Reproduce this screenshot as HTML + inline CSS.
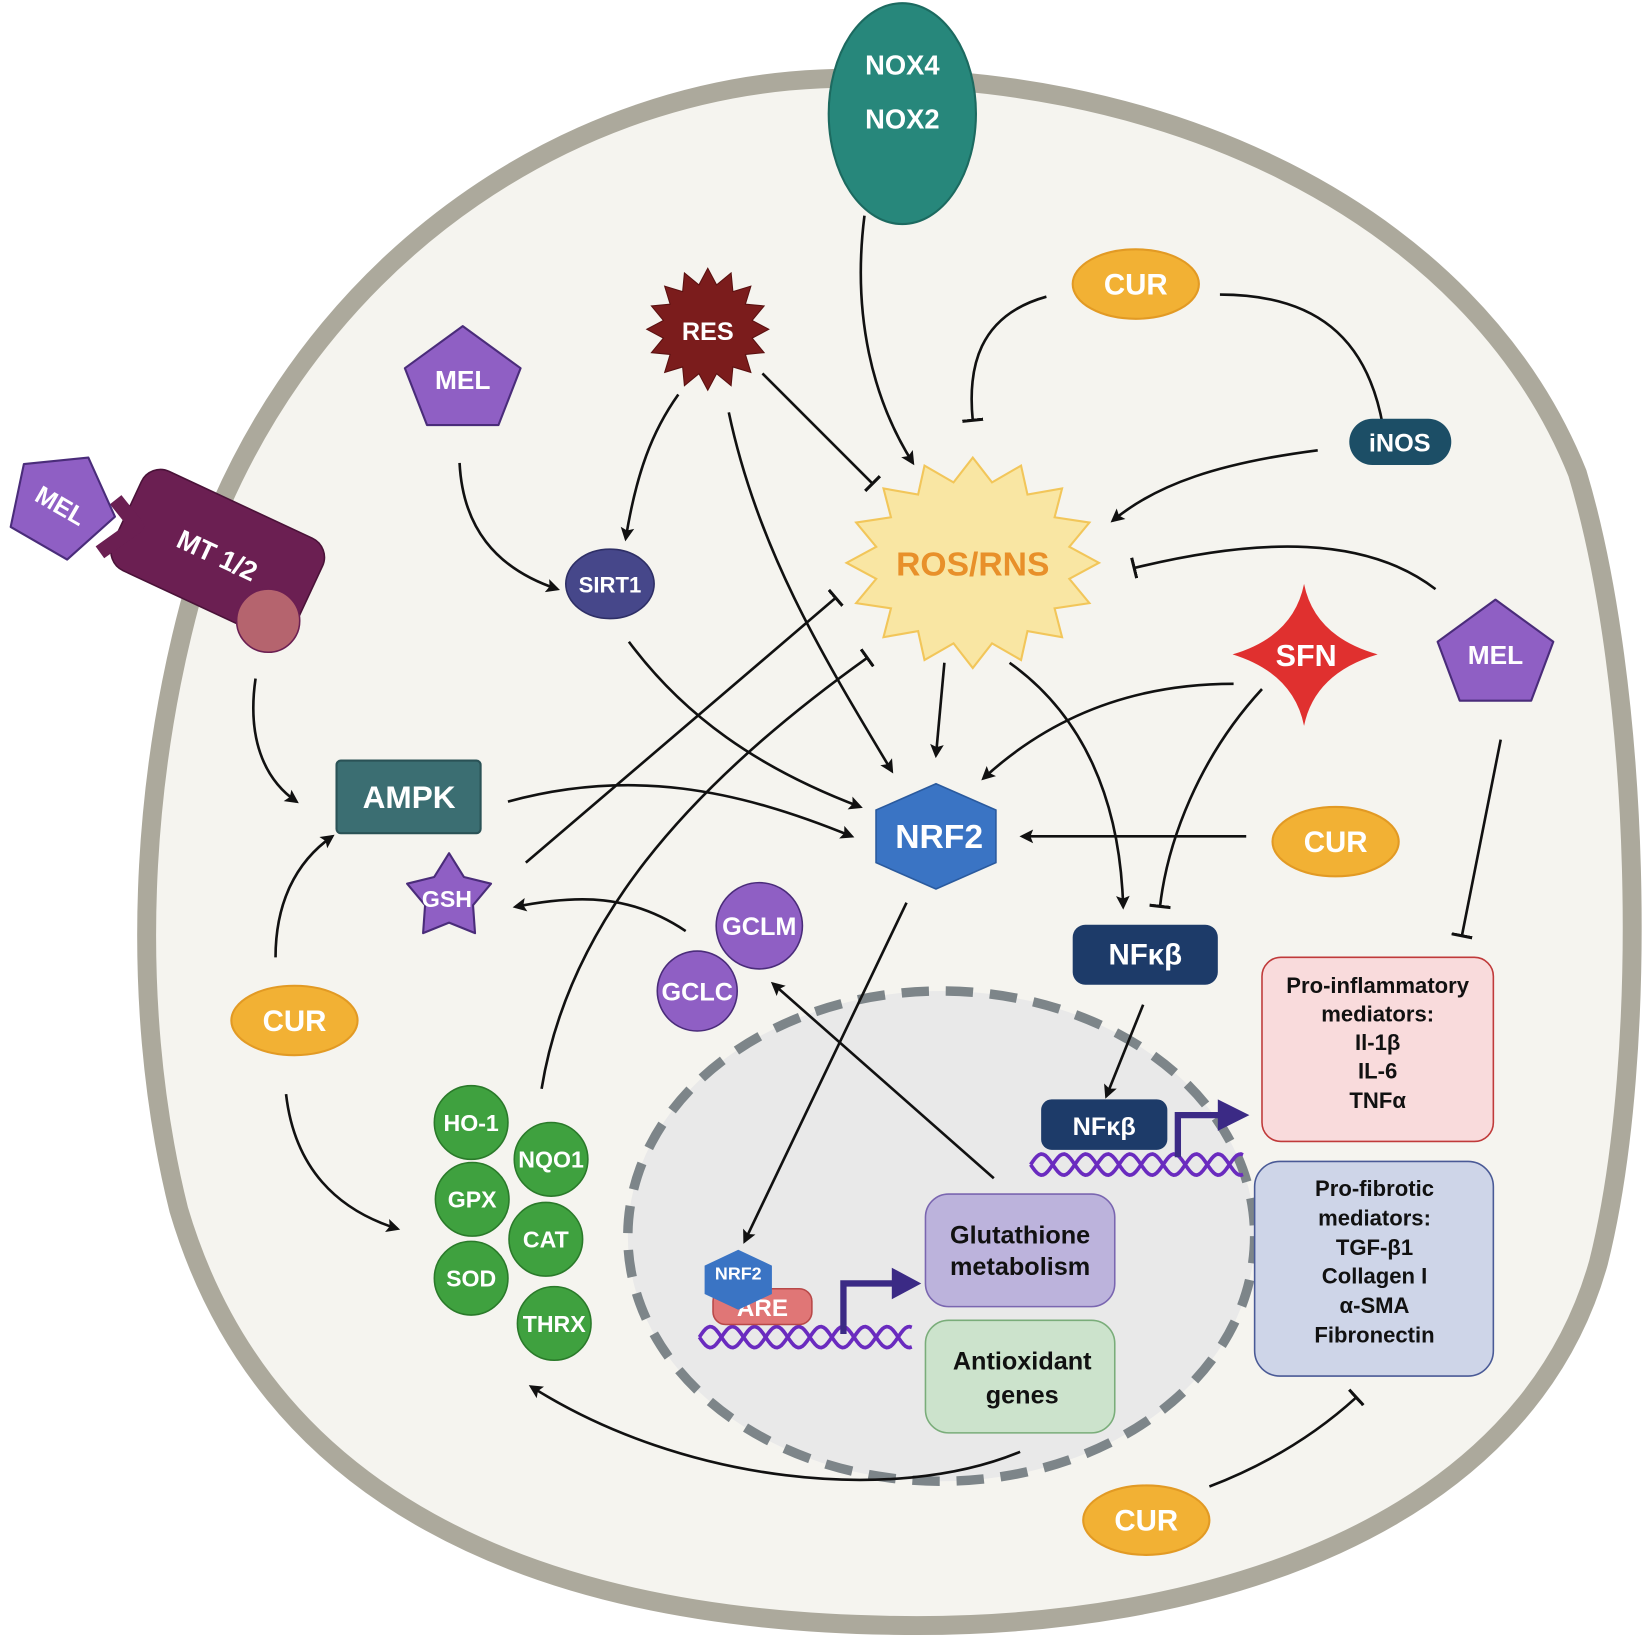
<!DOCTYPE html>
<html><head><meta charset="utf-8">
<style>
html,body{margin:0;padding:0;background:#fff;}
svg{display:block;}
text{font-family:"Liberation Sans",Arial,sans-serif;font-weight:bold;}
</style></head>
<body>
<svg id="s" width="1649" height="1638" viewBox="0 0 1568 1557" preserveAspectRatio="none" xmlns="http://www.w3.org/2000/svg">
<defs>
<marker id="ar" viewBox="0 0 10 10" refX="8" refY="5" markerWidth="14" markerHeight="13" orient="auto" markerUnits="userSpaceOnUse" style="overflow:visible">
<path d="M0,0 L10,5 L0,10 L2,5 Z" fill="#111"/></marker>
<marker id="br" viewBox="0 -10 4 20" refX="2" refY="0" markerWidth="4" markerHeight="20" orient="auto" markerUnits="userSpaceOnUse">
<rect x="0" y="-10" width="3" height="20" fill="#111"/></marker>
</defs>
<!-- cell -->
<path d="M780,75 C1100,60 1400,200 1500,450 C1560,650 1570,1000 1520,1200 C1450,1450 1150,1550 850,1545 C500,1540 250,1420 170,1150 C120,950 130,700 210,480 C320,230 550,85 780,75 Z" fill="#f5f4ef" stroke="#aca99c" stroke-width="18"/>
<!-- nucleus -->
<ellipse cx="895" cy="1175" rx="298" ry="233" fill="#e9e9e9" stroke="#7d8589" stroke-width="9" stroke-dasharray="26 16"/>

<!-- connectors -->
<g fill="none" stroke="#111" stroke-width="2.5">
<path d="M822,205 C810,300 830,380 868,440" marker-end="url(#ar)"/>
<path d="M995,282 C930,300 920,350 925,400" marker-end="url(#br)"/>
<path d="M1160,280 C1250,280 1300,320 1315,405" marker-end="url(#br)"/>
<path d="M1253,428 C1160,440 1100,460 1058,495" marker-end="url(#ar)"/>
<path d="M1365,560 C1300,510 1200,510 1078,540" marker-end="url(#br)"/>
<path d="M725,355 L830,460" marker-end="url(#br)"/>
<path d="M645,375 C620,410 605,450 595,512" marker-end="url(#ar)"/>
<path d="M693,392 C720,520 780,620 848,733" marker-end="url(#ar)"/>
<path d="M437,440 C440,500 470,540 530,560" marker-end="url(#ar)"/>
<path d="M598,610 C650,680 720,730 818,767" marker-end="url(#ar)"/>
<path d="M898,630 L890,718" marker-end="url(#ar)"/>
<path d="M960,630 C1030,680 1065,760 1068,862" marker-end="url(#ar)"/>
<path d="M1173,650 C1080,650 1000,680 935,740" marker-end="url(#ar)"/>
<path d="M1200,655 C1140,720 1110,800 1103,862" marker-end="url(#br)"/>
<path d="M1427,703 L1390,890" marker-end="url(#br)"/>
<path d="M1185,795 L972,795" marker-end="url(#ar)"/>
<path d="M483,762 C600,730 700,750 810,795" marker-end="url(#ar)"/>
<path d="M500,820 L795,568" marker-end="url(#br)"/>
<path d="M515,1035 C540,880 650,750 825,625" marker-end="url(#br)"/>
<path d="M652,885 C600,850 550,850 490,862" marker-end="url(#ar)"/>
<path d="M243,645 C235,700 250,740 282,762" marker-end="url(#ar)"/>
<path d="M262,910 C262,860 280,820 316,795" marker-end="url(#ar)"/>
<path d="M272,1040 C280,1110 320,1150 378,1168" marker-end="url(#ar)"/>
<path d="M862,858 L708,1180" marker-end="url(#ar)"/>
<path d="M945,1120 L735,935" marker-end="url(#ar)"/>
<path d="M1087,955 L1052,1042" marker-end="url(#ar)"/>
<path d="M970,1380 C850,1430 650,1410 505,1318" marker-end="url(#ar)"/>
<path d="M1150,1413 C1210,1390 1255,1360 1290,1328" marker-end="url(#br)"/>
</g>

<!-- NOX -->
<ellipse cx="858" cy="108" rx="70" ry="105" fill="#27877b" stroke="#1c6a60" stroke-width="2"/>
<text x="858" y="71" font-size="26" fill="#fff" text-anchor="middle">NOX4</text>
<text x="858" y="122" font-size="26" fill="#fff" text-anchor="middle">NOX2</text>

<!-- RES -->
<polygon id="res" fill="#7b1c1c" stroke="#5a1010" stroke-width="1"/>
<text x="673" y="323" font-size="24" fill="#fff" text-anchor="middle">RES</text>

<!-- ROS -->
<polygon id="ros" fill="#f9e6a3" stroke="#f2c65a" stroke-width="2"/>
<text x="925" y="547" font-size="32" fill="#e8902a" text-anchor="middle">ROS/RNS</text>

<!-- CUR ellipses -->
<g fill="#f2b134" stroke="#e29a24" stroke-width="2">
<ellipse cx="1080" cy="270" rx="60" ry="33"/>
<ellipse cx="1270" cy="800" rx="60" ry="33"/>
<ellipse cx="280" cy="970" rx="60" ry="33"/>
<ellipse cx="1090" cy="1445" rx="60" ry="33"/>
</g>
<g font-size="28" fill="#fff" text-anchor="middle">
<text x="1080" y="280">CUR</text><text x="1270" y="810">CUR</text>
<text x="280" y="980">CUR</text><text x="1090" y="1455">CUR</text>
</g>

<!-- iNOS -->
<rect x="1283" y="398" width="97" height="44" rx="22" fill="#1c4e66"/>
<text x="1331" y="429" font-size="24" fill="#fff" text-anchor="middle" font-weight="normal">iNOS</text>

<!-- MEL pentagons -->
<g fill="#8f5fc4" stroke="#4a2c7a" stroke-width="2" stroke-linejoin="round">
<polygon points="440,310 495,350 474,404 406,404 385,350"/>
<polygon points="1422,570 1477,610 1456,666 1388,666 1367,610"/>
</g>
<text x="440" y="370" font-size="25" fill="#fff" text-anchor="middle">MEL</text>
<text x="1422" y="631" font-size="25" fill="#fff" text-anchor="middle">MEL</text>

<!-- MT receptor -->
<g transform="translate(207,527) rotate(25)">
<rect x="-95" y="-52" width="190" height="104" rx="20" fill="#6b1f52" stroke="#4a1238" stroke-width="1.5"/>
<text x="0" y="10" font-size="26" fill="#fff" text-anchor="middle">MT 1/2</text>
</g>
<path d="M110,475 L130,500 L95,525" fill="none" stroke="#6b1f52" stroke-width="14" stroke-linejoin="round"/>
<g transform="translate(58,480) rotate(30)">
<polygon points="0,-52 50,-16 31,42 -31,42 -50,-16" fill="#8f5fc4" stroke="#4a2c7a" stroke-width="2" stroke-linejoin="round"/>
<text x="0" y="9" font-size="24" fill="#fff" text-anchor="middle">MEL</text>
</g>
<circle cx="255" cy="590" r="30" fill="#b5646e" stroke="#6b1f52" stroke-width="1.5"/>

<!-- SIRT1 -->
<ellipse cx="580" cy="555" rx="42" ry="33" fill="#46478a" stroke="#2e2f66" stroke-width="1.5"/>
<text x="580" y="563" font-size="21" fill="#fff" text-anchor="middle">SIRT1</text>

<!-- SFN -->
<path d="M1240,555 Q1250,605 1310,622 Q1250,640 1240,690 Q1230,640 1172,622 Q1230,605 1240,555 Z" fill="#e0302f"/>
<text x="1242" y="633" font-size="29" fill="#fff" text-anchor="middle">SFN</text>

<!-- AMPK -->
<rect x="320" y="723" width="137" height="69" rx="4" fill="#3b6e72" stroke="#2a5256" stroke-width="2"/>
<text x="389" y="768" font-size="30" fill="#fff" text-anchor="middle">AMPK</text>

<!-- NRF2 -->
<polygon points="890,745 947,770 947,820 890,845 833,820 833,770" fill="#3a74c4" stroke="#2a5a9e" stroke-width="1.5"/>
<text x="893" y="806" font-size="32" fill="#fff" text-anchor="middle">NRF2</text>

<!-- GSH star -->
<polygon id="gsh" fill="#8f5fc4" stroke="#4a2c7a" stroke-width="2" stroke-linejoin="round"/>
<text x="425" y="862" font-size="22" fill="#fff" text-anchor="middle">GSH</text>

<!-- GCLM / GCLC -->
<circle cx="722" cy="880" r="41" fill="#8f5fc4" stroke="#4a2c7a" stroke-width="1.5"/>
<circle cx="663" cy="942" r="38" fill="#8f5fc4" stroke="#4a2c7a" stroke-width="1.5"/>
<text x="722" y="889" font-size="24" fill="#fff" text-anchor="middle" font-weight="normal">GCLM</text>
<text x="663" y="951" font-size="24" fill="#fff" text-anchor="middle" font-weight="normal">GCLC</text>

<!-- NFkB -->
<rect x="1020" y="879" width="138" height="57" rx="12" fill="#1d3b69"/>
<text x="1089" y="917" font-size="28" fill="#fff" text-anchor="middle" font-weight="normal">NFκβ</text>

<!-- boxes -->
<rect x="1200" y="910" width="220" height="175" rx="18" fill="#f9dbdc" stroke="#c03a3a" stroke-width="1.5"/>
<g font-size="21" fill="#111" text-anchor="middle">
<text x="1310" y="944">Pro-inflammatory</text><text x="1310" y="971">mediators:</text>
<text x="1310" y="998">Il-1β</text><text x="1310" y="1025">IL-6</text><text x="1310" y="1053">TNFα</text>
</g>
<rect x="1193" y="1104" width="227" height="204" rx="24" fill="#ced5e8" stroke="#4a5a96" stroke-width="1.5"/>
<g font-size="21" fill="#111" text-anchor="middle">
<text x="1307" y="1137">Pro-fibrotic</text><text x="1307" y="1165">mediators:</text>
<text x="1307" y="1193">TGF-β1</text><text x="1307" y="1220">Collagen I</text>
<text x="1307" y="1248">α-SMA</text><text x="1307" y="1276">Fibronectin</text>
</g>

<!-- green antioxidants -->
<g fill="#3fa13f" stroke="#2a7a2a" stroke-width="1.5">
<circle cx="448" cy="1067" r="35"/><circle cx="524" cy="1102" r="35"/>
<circle cx="449" cy="1140" r="35"/><circle cx="519" cy="1178" r="35"/>
<circle cx="448" cy="1215" r="35"/><circle cx="527" cy="1258" r="35"/>
</g>
<g font-size="22" fill="#fff" text-anchor="middle" font-weight="normal">
<text x="448" y="1075">HO-1</text><text x="524" y="1110">NQO1</text>
<text x="449" y="1148">GPX</text><text x="519" y="1186">CAT</text>
<text x="448" y="1223">SOD</text><text x="527" y="1266">THRX</text>
</g>

<!-- nuclear parts -->
<path id="dna1" fill="none" stroke="#6a2bbf" stroke-width="3.5"/>
<path id="dna2" fill="none" stroke="#6a2bbf" stroke-width="3.5"/>
<path id="dna3" fill="none" stroke="#6a2bbf" stroke-width="3.5"/>
<path id="dna4" fill="none" stroke="#6a2bbf" stroke-width="3.5"/>
<path d="M802,1268 V1220 H850" fill="none" stroke="#3b2a85" stroke-width="6"/>
<polygon points="848,1205 876,1220 848,1235" fill="#3b2a85"/>
<path d="M1120,1100 V1060 H1160" fill="none" stroke="#3b2a85" stroke-width="6"/>
<polygon points="1158,1045 1188,1060 1158,1075" fill="#3b2a85"/>
<rect x="990" y="1045" width="120" height="48" rx="10" fill="#1d3b69"/>
<text x="1050" y="1079" font-size="24" fill="#fff" text-anchor="middle" font-weight="normal">NFκβ</text>
<rect x="678" y="1225" width="94" height="34" rx="12" fill="#e07676" stroke="#b84848" stroke-width="1.5"/>
<text x="725" y="1251" font-size="23" fill="#fff" text-anchor="middle" font-weight="normal">ARE</text>
<polygon points="702,1188 734,1203 734,1230 702,1245 670,1230 670,1203" fill="#3a74c4"/>
<text x="702" y="1216" font-size="17" fill="#fff" text-anchor="middle">NRF2</text>

<rect x="880" y="1135" width="180" height="107" rx="22" fill="#bcb3dc" stroke="#7a66b0" stroke-width="1.5"/>
<text x="970" y="1182" font-size="24" fill="#111" text-anchor="middle">Glutathione</text>
<text x="970" y="1212" font-size="24" fill="#111" text-anchor="middle">metabolism</text>
<rect x="880" y="1255" width="180" height="107" rx="22" fill="#cce3cc" stroke="#7aad7a" stroke-width="1.5"/>
<text x="972" y="1302" font-size="24" fill="#111" text-anchor="middle">Antioxidant</text>
<text x="972" y="1334" font-size="24" fill="#111" text-anchor="middle">genes</text>
</svg>
<script>
function star(cx,cy,n,ro,ri,rxs,rys,off){var p=[];for(var i=0;i<2*n;i++){var a=Math.PI*i/n+(off||0);var r=i%2?ri:ro;p.push((cx+r*Math.cos(a)*rxs).toFixed(1)+','+(cy+r*Math.sin(a)*rys).toFixed(1));}return p.join(' ');}
document.getElementById('res').setAttribute('points',star(673,313,16,58,43,1,1,0));
document.getElementById('ros').setAttribute('points',star(925,535,16,100,78,1.2,1,0));
document.getElementById('gsh').setAttribute('points',star(427,853,5,42,24,1,1,-Math.PI/2));
function helix(x0,x1,y,amp,ph){var d='M'+x0+','+(y+amp*Math.sin(ph)).toFixed(1);for(var x=x0+2;x<=x1;x+=2){d+=' L'+x+','+(y+amp*Math.sin((x-x0)/42*2*Math.PI+ph)).toFixed(1);}return d;}
document.getElementById('dna1').setAttribute('d',helix(665,868,1271,10,0));
document.getElementById('dna2').setAttribute('d',helix(665,868,1271,10,Math.PI));
document.getElementById('dna3').setAttribute('d',helix(980,1183,1107,10,0));
document.getElementById('dna4').setAttribute('d',helix(980,1183,1107,10,Math.PI));
</script>
</body></html>
